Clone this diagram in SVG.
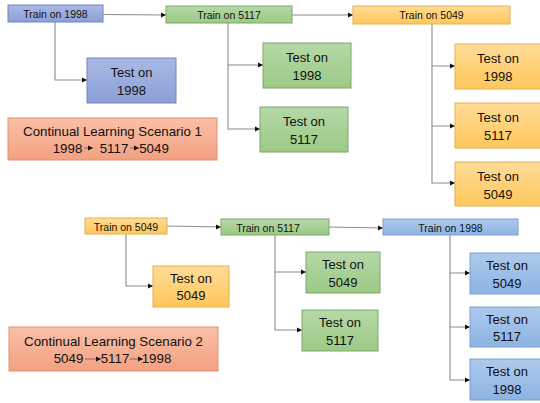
<svg xmlns="http://www.w3.org/2000/svg" width="540" height="403" viewBox="0 0 540 403">
<defs>
<linearGradient id="gBlue" x1="0" y1="0" x2="0" y2="1"><stop offset="0" stop-color="#aab9e4"/><stop offset="1" stop-color="#8ba0d8"/></linearGradient>
<linearGradient id="gGreen" x1="0" y1="0" x2="0" y2="1"><stop offset="0" stop-color="#b6d8a7"/><stop offset="1" stop-color="#9bca85"/></linearGradient>
<linearGradient id="gOrange" x1="0" y1="0" x2="0" y2="1"><stop offset="0" stop-color="#ffdc98"/><stop offset="1" stop-color="#ffc75a"/></linearGradient>
<linearGradient id="gLBlue" x1="0" y1="0" x2="0" y2="1"><stop offset="0" stop-color="#aecaec"/><stop offset="1" stop-color="#8cb3e3"/></linearGradient>
<linearGradient id="gSalmon" x1="0" y1="0" x2="0" y2="1"><stop offset="0" stop-color="#f8c0a8"/><stop offset="1" stop-color="#f4a081"/></linearGradient>
<marker id="arr" markerWidth="6" markerHeight="6" refX="5" refY="3" orient="auto" markerUnits="userSpaceOnUse"><path d="M0,0.5 L5,3 L0,5.5 Z" fill="#111"/></marker>
</defs>
<style>
.blue{fill:url(#gBlue);stroke:#7186bf;stroke-width:1}
.green{fill:url(#gGreen);stroke:#7ea86a;stroke-width:1}
.orange{fill:url(#gOrange);stroke:#e2b24f;stroke-width:1}
.lblue{fill:url(#gLBlue);stroke:#7d9fcf;stroke-width:1}
.salmon{fill:url(#gSalmon);stroke:#e49072;stroke-width:1}
text{font-family:"Liberation Sans",Arial,sans-serif;fill:#111;text-anchor:middle;dominant-baseline:central}
.sm{font-size:10.5px}
.lg{font-size:13px}
.sc{font-size:13.3px}
.conn{fill:none;stroke:#8c8c8c;stroke-width:1.1}
.ca{marker-end:url(#arr)}
.tarr{fill:none;stroke:#666;stroke-width:0.9;marker-end:url(#arr)}
</style>

<g id="connectors">
<path class="conn ca" d="M103,14.5 L166,15"/>
<path class="conn ca" d="M55,22 L55,80 L87,80"/>
<path class="conn ca" d="M228,23 L228,65 L263,65"/>
<path class="conn ca" d="M228,65 L228,129 L260,129"/>
<path class="conn ca" d="M292,15 L353,15"/>
<path class="conn ca" d="M432,24 L432,66 L455,66"/>
<path class="conn ca" d="M432,66 L432,126 L455,126"/>
<path class="conn ca" d="M432,126 L432,183 L455,183"/>
<path class="conn ca" d="M167,226 L221,227"/>
<path class="conn ca" d="M126,234 L126,286 L153,286"/>
<path class="conn ca" d="M329,227 L383,228"/>
<path class="conn ca" d="M275,235 L275,272 L306,272"/>
<path class="conn ca" d="M275,272 L275,330 L302,330"/>
<path class="conn ca" d="M450,235 L450,273 L470,273"/>
<path class="conn ca" d="M450,273 L450,327 L470,327"/>
<path class="conn ca" d="M450,327 L450,380 L470,380"/>
</g>

<g id="s1-train-1998"><rect class="blue" x="8" y="5" width="95" height="17"/><text class="sm" x="55.5" y="13.5">Train on 1998</text></g>
<g id="s1-train-5117"><rect class="green" x="166" y="6" width="126" height="17"/><text class="sm" x="229" y="14.5">Train on 5117</text></g>
<g id="s1-train-5049"><rect class="orange" x="353" y="6" width="157" height="18"/><text class="sm" x="431.5" y="15">Train on 5049</text></g>
<g id="s1-test-1998-a"><rect class="blue" x="87" y="58" width="89" height="45"/><text class="lg" x="131.5" y="72">Test on</text><text class="lg" x="131.5" y="90">1998</text></g>
<g id="s1-scenario"><rect class="salmon" x="8" y="118" width="209" height="42"/><text class="sc" x="112.5" y="131">Continual Learning Scenario 1</text>
<text class="sc" x="67.5" y="148">1998</text><text class="sc" x="114" y="148">5117</text><text class="sc" x="154" y="148">5049</text>
<path class="tarr" d="M84,148 L93,148"/><path class="tarr" d="M130,148 L139,148"/></g>
<g id="s1-test-1998-b"><rect class="green" x="263" y="43" width="88" height="45"/><text class="lg" x="307" y="57">Test on</text><text class="lg" x="307" y="75">1998</text></g>
<g id="s1-test-5117-b"><rect class="green" x="260" y="107" width="88" height="45"/><text class="lg" x="304" y="121">Test on</text><text class="lg" x="304" y="139">5117</text></g>
<g id="s1-test-1998-c"><rect class="orange" x="455" y="44" width="87" height="45"/><text class="lg" x="498" y="58">Test on</text><text class="lg" x="498" y="76">1998</text></g>
<g id="s1-test-5117-c"><rect class="orange" x="455" y="103" width="87" height="45"/><text class="lg" x="498" y="117">Test on</text><text class="lg" x="498" y="135">5117</text></g>
<g id="s1-test-5049-c"><rect class="orange" x="455" y="162" width="87" height="44"/><text class="lg" x="498" y="176">Test on</text><text class="lg" x="498" y="194">5049</text></g>

<g id="s2-train-5049"><rect class="orange" x="85" y="218" width="82" height="16"/><text class="sm" x="126" y="226.5">Train on 5049</text></g>
<g id="s2-train-5117"><rect class="green" x="221" y="219" width="108" height="16"/><text class="sm" x="268" y="227.5">Train on 5117</text></g>
<g id="s2-train-1998"><rect class="lblue" x="383" y="219" width="135" height="16"/><text class="sm" x="450.5" y="227.5">Train on 1998</text></g>
<g id="s2-test-5049-a"><rect class="orange" x="153" y="266" width="76" height="41"/><text class="lg" x="191" y="278">Test on</text><text class="lg" x="191" y="295.5">5049</text></g>
<g id="s2-scenario"><rect class="salmon" x="9" y="327" width="209" height="44"/><text class="sc" x="113.5" y="341">Continual Learning Scenario 2</text>
<text class="sc" x="68.5" y="358.5">5049</text><text class="sc" x="115" y="358.5">5117</text><text class="sc" x="156.5" y="358.5">1998</text>
<path class="tarr" d="M85,359 L101,359"/><path class="tarr" d="M130,359 L143,359"/></g>
<g id="s2-test-5049-b"><rect class="green" x="306" y="252" width="74" height="41"/><text class="lg" x="343" y="264.5">Test on</text><text class="lg" x="343" y="282">5049</text></g>
<g id="s2-test-5117-b"><rect class="green" x="302" y="310" width="76" height="41"/><text class="lg" x="340" y="322.5">Test on</text><text class="lg" x="340" y="340">5117</text></g>
<g id="s2-test-5049-c"><rect class="lblue" x="470" y="253" width="74" height="41"/><text class="lg" x="507" y="265.5">Test on</text><text class="lg" x="507" y="283">5049</text></g>
<g id="s2-test-5117-c"><rect class="lblue" x="470" y="307" width="74" height="40"/><text class="lg" x="507" y="319">Test on</text><text class="lg" x="507" y="336.5">5117</text></g>
<g id="s2-test-1998-c"><rect class="lblue" x="470" y="359" width="74" height="41"/><text class="lg" x="507" y="371.5">Test on</text><text class="lg" x="507" y="389">1998</text></g>
</svg>
